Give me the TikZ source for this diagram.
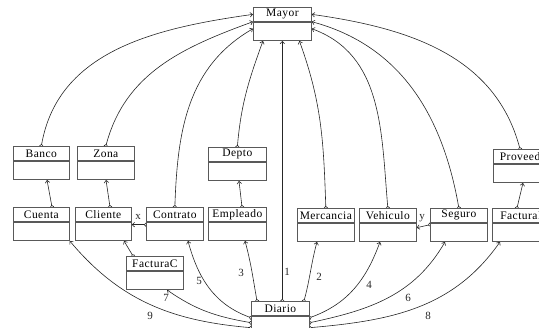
\documentclass[tikz,border=0pt]{standalone}
\usepackage{fontspec}
\setmainfont{Liberation Serif}
\newfontfamily\clsfont[LetterSpace=4]{Liberation Serif}
\usetikzlibrary{arrows.meta,calc}
\pgfdeclarelayer{bg}
\pgfsetlayers{bg,main}

\tikzset{
  clshead/.style={draw=black!65, fill=white, line width=0.7pt, inner sep=0pt,
    minimum height=14pt, anchor=north west, text=black,
    font=\clsfont\fontsize{11.5}{12}\selectfont},
  clsbody/.style={draw=black!65, fill=white, line width=0.7pt, inner sep=0pt,
    minimum height=18.5pt, anchor=north west},
  link/.style={line width=0.6pt, draw=black!85,
    {Circle[open,length=4pt,width=4pt]}-{Straight Barb[length=2.5pt,width=4.5pt]},
    shorten <=-2pt},
  num/.style={font=\fontsize{11}{12}\selectfont, inner sep=0pt, text=black!85},
}

% class box: id, left, top, width, title (header + empty body)
\newcommand\umlclass[5]{%
  \node[clshead, minimum width=#4pt] (#1) at (#2,-#3) {#5};
  \node[clsbody, minimum width=#4pt] (#1-b) at (#1.south west) {};
}

\begin{document}
\begin{tikzpicture}[x=1pt, y=1pt]
  \useasboundingbox (0,0) rectangle (539,-328);
  \clip (0,0) rectangle (539,-328);

  \umlclass{mayor}{253}{7}{58}{Mayor}
  \umlclass{banco}{13}{146}{56}{Banco}
  \umlclass{zona}{77}{146}{57}{Zona}
  \umlclass{depto}{208}{147}{58}{Depto}
  \umlclass{proveedor}{493}{149}{64}{Proveedor}
  \umlclass{cuenta}{13}{207}{56}{Cuenta}
  \umlclass{cliente}{75}{207}{56}{Cliente}
  \umlclass{contrato}{146}{207}{57}{Contrato}
  \umlclass{empleado}{208}{207}{58}{Empleado}
  \umlclass{mercancia}{297}{208}{57}{Mercancia}
  \umlclass{vehiculo}{359}{208}{57}{Vehiculo}
  \umlclass{seguro}{430}{208}{57}{Seguro}
  \umlclass{facturap}{492}{208}{60}{FacturaP}
  \umlclass{facturac}{126}{256}{57}{FacturaC}
  \umlclass{diario}{251}{301}{58}{Diario}

  \begin{pgfonlayer}{bg}
    % links up to Mayor
    \draw[link] (banco.north) to[out=80,in=188] (mayor.west);
    \draw[link] (zona.north) to[out=75,in=200] (mayor.south west);
    \draw[link] (contrato.north) to[out=88,in=210] ($(mayor-b.north west)+(0,-7)$);
    \draw[link] (depto.north) to[out=85,in=250] ($(mayor-b.south west)+(10,0)$);
    \draw[link] (mayor-b.south |- diario.north) -- (mayor-b.south);
    \draw[link] (mercancia.north) to[out=92,in=-70] ($(mayor-b.south)+(17,0)$);
    \draw[link] (vehiculo.north) to[out=95,in=-20] ($(mayor-b.north east)+(0,-7)$);
    \draw[link] (seguro.north) to[out=100,in=-15] (mayor.south east);
    \draw[link] ($(proveedor.north west)+(27,0)$) to[out=105,in=-8] (mayor.east);

    % short links between neighbouring classes
    \draw[link] ($(cuenta.north west)+(39,0)$) -- ($(banco-b.south west)+(34,0)$);
    \draw[link] ($(cliente.north west)+(35,0)$) -- ($(zona-b.south west)+(29,0)$);
    \draw[link] ($(empleado.north west)+(34,0)$) -- ($(depto-b.south west)+(31,0)$);
    \draw[link] ($(facturap.north west)+(25,0)$) -- ($(proveedor-b.south west)+(30,0)$);
    \draw[link] ($(facturac.north west)+(7,0)$) -- ($(cliente-b.south west)+(49,0)$);
    \draw[link] ($(contrato-b.north west)+(0,-3)$) -- ($(cliente-b.north east)+(0,-3)$);
    \draw[link] ($(seguro-b.north west)+(0,-2)$) -- ($(vehiculo-b.north east)+(0,-5)$);

    % links out of Diario
    \draw[link] ($(diario.north west)+(53,0)$) to[out=75,in=-105] ($(mercancia-b.south west)+(20,0)$);
    \draw[link] ($(diario.north west)+(6,0)$) to[out=100,in=-75] ($(empleado-b.south west)+(37,0)$);
    \draw[link] ($(diario-b.north east)+(0,-2)$) to[out=20,in=-110] ($(vehiculo-b.south west)+(21,0)$);
    \draw[link] ($(diario-b.north east)+(0,-7)$) to[out=12,in=-120] ($(seguro-b.south west)+(15,0)$);
    \draw[link] ($(diario-b.north east)+(0,-12)$) to[out=5,in=-125] ($(facturap-b.south west)+(8,0)$);
    \draw[link] ($(diario-b.north west)+(0,-2)$) to[out=160,in=-75] ($(contrato-b.south west)+(42,0)$);
    \draw[link] ($(diario-b.north west)+(0,-7)$) to[out=170,in=-35] ($(facturac-b.south west)+(41,0)$);
    \draw[link] ($(diario-b.north west)+(0,-12)$) to[out=175,in=-50] (cuenta-b.south east);
  \end{pgfonlayer}

  % link labels
  \node[num] (lx) at (138,-217) {x};
  \node[num] (ly) at (422,-218) {y};
  \node[num] (l1) at (287,-272) {1};
  \node[num] (l2) at (319,-277) {2};
  \node[num] (l3) at (241,-273) {3};
  \node[num] (l4) at (369,-285) {4};
  \node[num] (l5) at (199,-281) {5};
  \node[num] (l6) at (408,-298) {6};
  \node[num] (l7) at (166,-298) {7};
  \node[num] (l8) at (428,-316) {8};
  \node[num] (l9) at (150,-316) {9};
\end{tikzpicture}
\end{document}
